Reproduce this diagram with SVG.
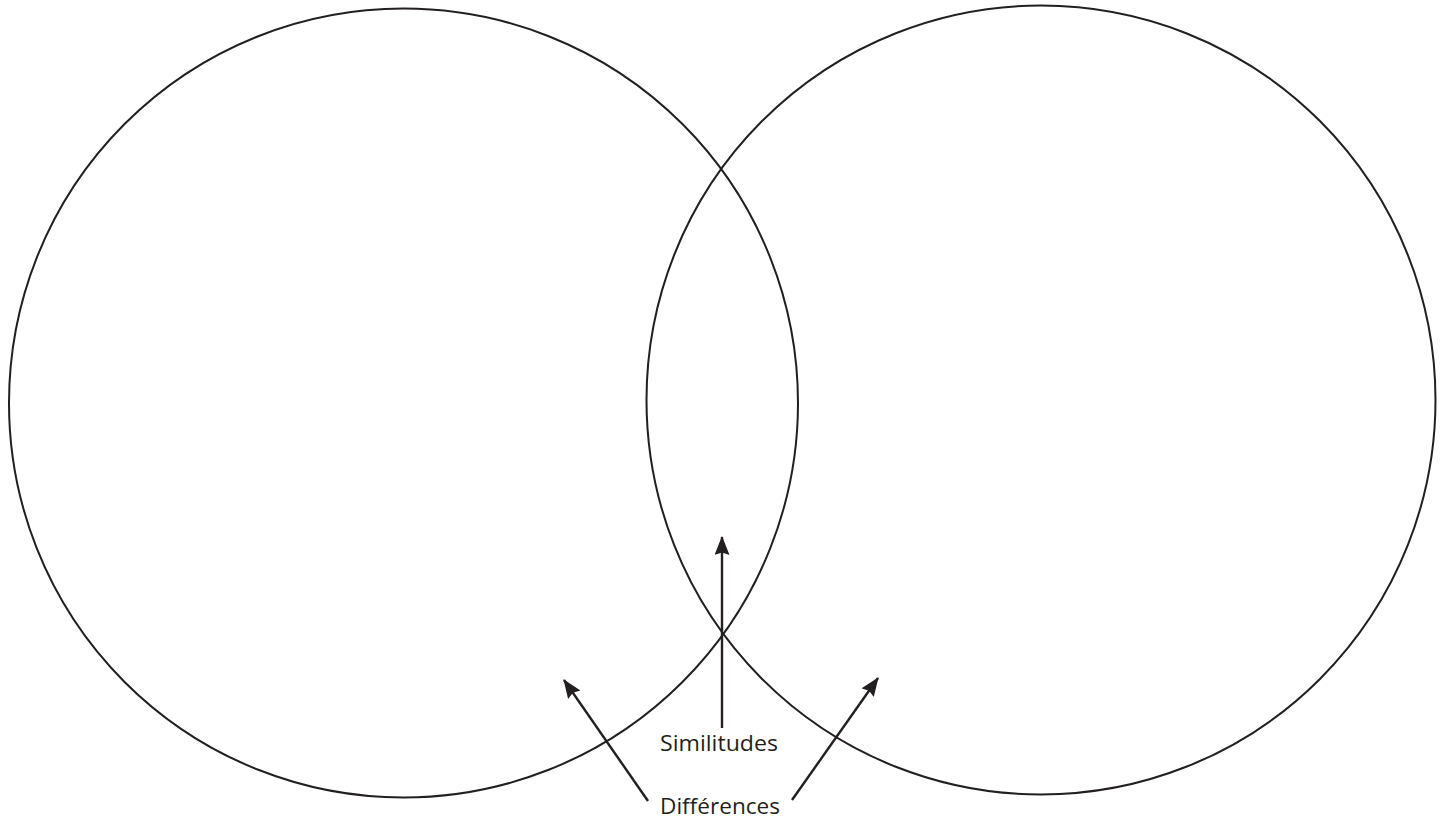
<svg xmlns="http://www.w3.org/2000/svg" width="1445" height="823" viewBox="0 0 1445 823">
<style>
.c{fill:none;stroke:#231f20;stroke-width:2}
.a{fill:none;stroke:#231f20;stroke-width:2.4}
.t{font-family:"Open Sans","Noto Sans","DejaVu Sans",sans-serif;font-size:21px;fill:#231f20}
</style>
<defs>
<marker id="ah" markerUnits="userSpaceOnUse" markerWidth="22" markerHeight="16" refX="18" refY="7.5" orient="auto">
<path d="M0,0 L19,7.5 L0,15 L2.5,7.5 Z" fill="#231f20"/>
</marker>
</defs>
<rect width="1445" height="823" fill="#fff"/>
<g id="circle-left"><circle class="c" cx="403.5" cy="403" r="394.5"/></g>
<g id="circle-right"><circle class="c" cx="1041" cy="400" r="394.5"/></g>
<g id="connectors">
<line class="a" x1="722" y1="728" x2="722" y2="537" marker-end="url(#ah)"/>
<line class="a" x1="648" y1="801" x2="564" y2="680" marker-end="url(#ah)"/>
<line class="a" x1="792" y1="800" x2="878" y2="678" marker-end="url(#ah)"/>
</g>
<g id="label-similitudes"><text class="t" x="660" y="751" textLength="118" lengthAdjust="spacingAndGlyphs">Similitudes</text></g>
<g id="label-differences"><text class="t" x="660" y="813.5" textLength="120" lengthAdjust="spacingAndGlyphs">Différences</text></g>
</svg>
